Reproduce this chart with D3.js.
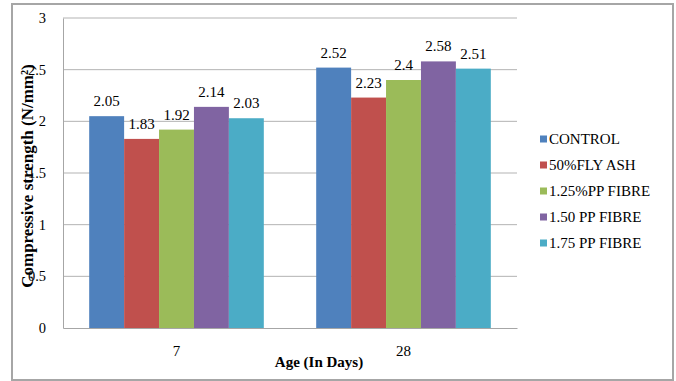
<!DOCTYPE html>
<html>
<head>
<meta charset="utf-8">
<script src="https://cdn.jsdelivr.net/npm/d3@7"></script>
<style>
  html, body { margin: 0; padding: 0; background: #fff; }
</style>
</head>
<body>
<svg id="chart" width="676" height="381"></svg>
<script>
// Compressive strength by curing age for each mix
const ages = ["7", "28"];
const mixes = ["CONTROL", "50%FLY ASH", "1.25%PP FIBRE", "1.50 PP FIBRE", "1.75 PP FIBRE"];
const colors = ["#4F81BD", "#C0504D", "#9BBB59", "#8064A2", "#4BACC6"];
const strength7 = [2.05, 1.83, 1.92, 2.14, 2.03];
const strength28 = [2.52, 2.23, 2.4, 2.58, 2.51];
const yTicks = [0, 0.5, 1, 1.5, 2, 2.5, 3];

const seriesByAge = [strength7, strength28];
const SERIF = "'Liberation Serif', 'Times New Roman', serif";

const svg = d3.select("#chart");

// outer frame
svg.append("rect")
  .attr("x", 12).attr("y", 4)
  .attr("width", 661).attr("height", 376)
  .attr("fill", "#fff")
  .attr("stroke", "#a6a6a6").attr("stroke-width", 2);

const plot = { left: 63, right: 517, top: 18, bottom: 328 };

const x0 = d3.scaleBand().domain(ages).range([plot.left, plot.right]).paddingInner(0).paddingOuter(0);
const x1 = d3.scaleBand().domain(mixes).range([0, x0.bandwidth()]).paddingOuter(0.75).paddingInner(0);
const y = d3.scaleLinear().domain([0, 3]).range([plot.bottom, plot.top]);

// horizontal gridlines
svg.append("g").selectAll("line")
  .data(yTicks.filter(t => t > 0))
  .join("line")
  .attr("x1", plot.left).attr("x2", plot.right)
  .attr("y1", d => y(d)).attr("y2", d => y(d))
  .attr("stroke", "#b3b3b3").attr("stroke-width", 1);

// y axis
const yAxis = svg.append("g")
  .attr("transform", `translate(${plot.left},0)`)
  .call(d3.axisLeft(y).tickValues(yTicks).tickFormat(d3.format("")).tickSize(0).tickPadding(17));
yAxis.select(".domain").attr("stroke", "#a6a6a6");
yAxis.selectAll("text").style("font-family", SERIF).style("font-size", "14.5px").attr("fill", "#000");

// bars
const groups = svg.append("g").selectAll("g")
  .data(ages)
  .join("g")
  .attr("transform", d => `translate(${x0(d)},0)`);

groups.selectAll("rect")
  .data((d, i) => mixes.map((m, j) => ({ mix: m, value: seriesByAge[i][j], color: colors[j] })))
  .join("rect")
  .attr("x", d => x1(d.mix))
  .attr("y", d => y(d.value))
  .attr("width", x1.bandwidth())
  .attr("height", d => y(0) - y(d.value))
  .attr("fill", d => d.color);

// value labels
groups.selectAll("text.val")
  .data((d, i) => mixes.map((m, j) => ({ mix: m, value: seriesByAge[i][j] })))
  .join("text")
  .attr("class", "val")
  .attr("x", d => x1(d.mix) + x1.bandwidth() / 2)
  .attr("y", d => y(d.value) - 10)
  .attr("text-anchor", "middle")
  .style("font-family", SERIF).style("font-size", "15px")
  .text(d => d.value);

// x axis
const xAxis = svg.append("g")
  .attr("transform", `translate(0,${plot.bottom})`)
  .call(d3.axisBottom(x0).tickSize(0).tickPadding(17));
xAxis.select(".domain").attr("stroke", "#a6a6a6");
xAxis.selectAll("text").style("font-family", SERIF).style("font-size", "15px").attr("fill", "#000");

// axis titles
svg.append("text")
  .attr("x", 319).attr("y", 367)
  .attr("text-anchor", "middle")
  .style("font-family", SERIF).style("font-size", "15px").style("font-weight", "bold")
  .text("Age (In Days)");

svg.append("text")
  .attr("transform", "translate(33,176) rotate(-90)")
  .attr("text-anchor", "middle")
  .style("font-family", SERIF).style("font-size", "17px").style("font-weight", "bold")
  .text("Compressive strength (N/mm²)");

// legend
const legend = svg.append("g").selectAll("g")
  .data(mixes)
  .join("g")
  .attr("transform", (d, i) => `translate(540,${139 + i * 26})`);
legend.append("rect")
  .attr("x", 0).attr("y", -3.5)
  .attr("width", 7).attr("height", 7)
  .attr("fill", (d, i) => colors[i]);
legend.append("text")
  .attr("x", 9).attr("y", 5)
  .style("font-family", SERIF).style("font-size", "15px")
  .text(d => d);
</script>
</body>
</html>
